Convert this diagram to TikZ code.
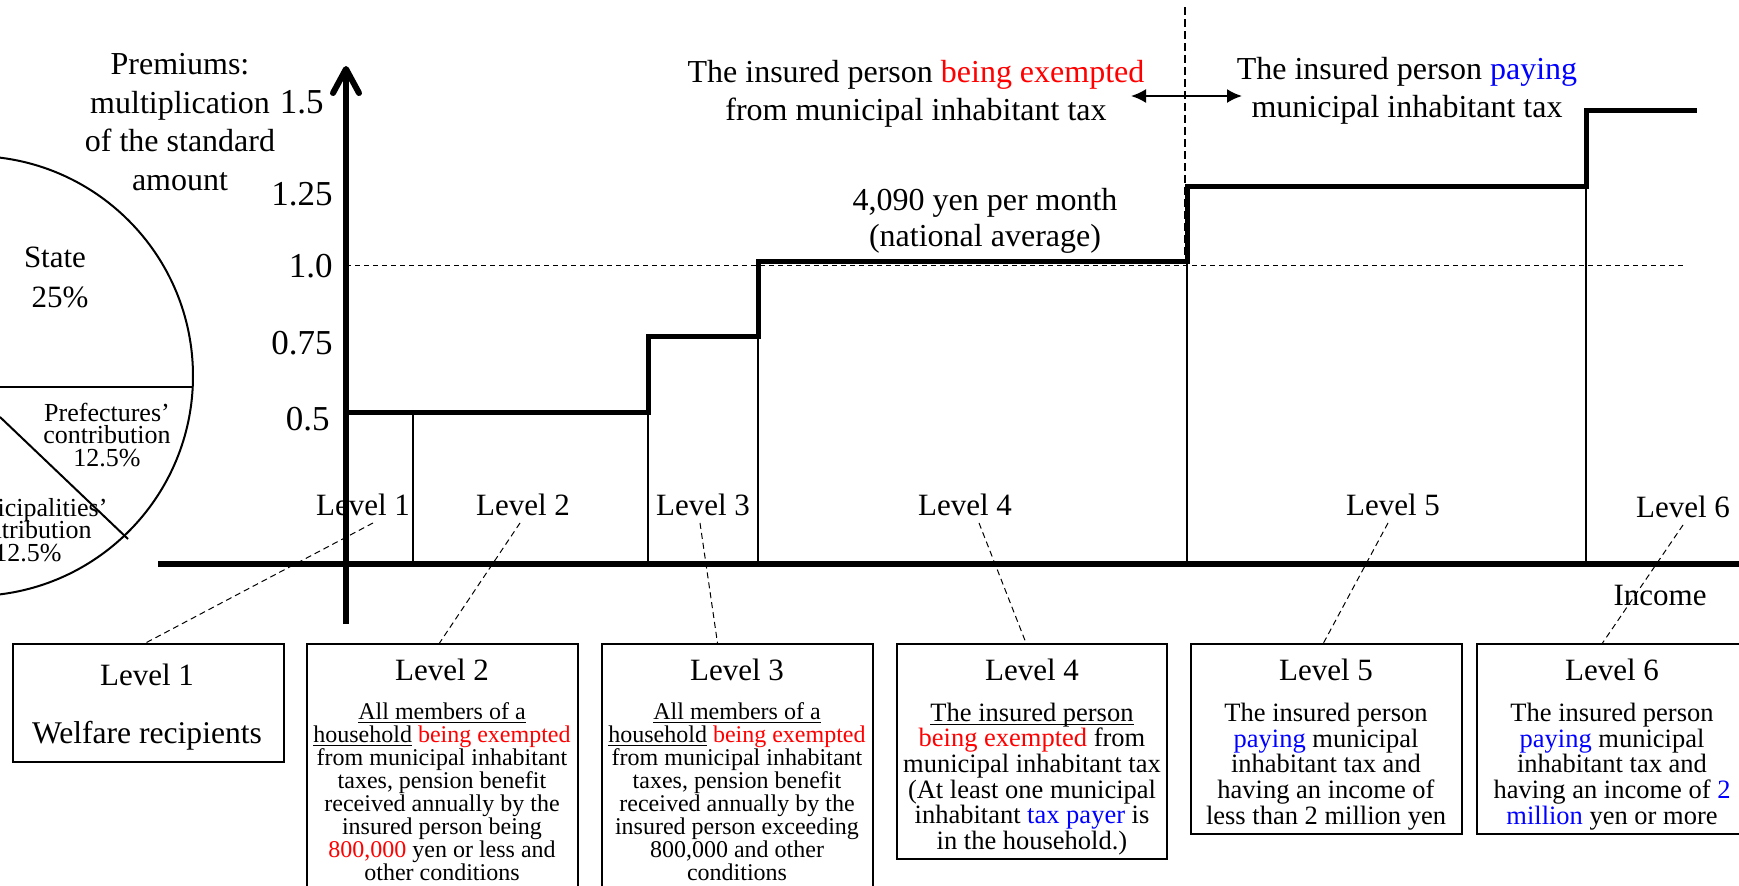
\documentclass[tikz,border=0pt]{standalone}
\usepackage{fontspec}
\setmainfont{Liberation Serif}
\usetikzlibrary{arrows.meta,calc}
\newcommand\tightlines{\lineskiplimit=-10pt\relax}
% underline just below the baseline, crossing descenders
\newcommand\baseul[1]{\underline{\smash{#1}}\vphantom{#1}}
\begin{document}
\begin{tikzpicture}[x=0.5pt,y=-0.5pt,
  axis/.style={line width=3pt,-{Straight Barb[length=12pt,width=13pt,round]}},
  stair/.style={line width=2.5pt,line join=miter},
  guide/.style={line width=0.75pt},
  dashref/.style={line width=0.5pt,dash pattern=on 2.5pt off 2pt},
  divider/.style={line width=0.75pt,dash pattern=on 4pt off 2pt},
  leader/.style={line width=0.5pt,dash pattern=on 3pt off 2pt},
  box/.style={draw,line width=1pt,inner sep=0pt,minimum width=135.5pt},
  lvl/.style={font=\fontsize{15.5}{18}\selectfont},
  tick/.style={font=\fontsize{17.5}{20}\selectfont,anchor=east,inner sep=0pt},
  captext/.style={font=\fontsize{16}{19}\selectfont,align=center,inner sep=0pt},
  body/.style={font=\fontsize{12}{11.5}\selectfont\tightlines,align=center,inner sep=0pt},
  bodyb/.style={font=\fontsize{13.25}{12.8}\selectfont\tightlines,align=center,inner sep=0pt},
  pietext/.style={font=\fontsize{13}{11.25}\selectfont\tightlines,align=center,inner sep=0pt},
]
\useasboundingbox (0,0) rectangle (1739,885);
\clip (0,0) rectangle (1739,885);

% funding pie (partly outside the frame)
\draw[line width=1pt] (-27,376) circle[radius=110pt];
\draw[line width=1pt] (0,387) -- (193,387);
\draw[line width=1pt] (0,417) -- (128,539);
\node[pietext,font=\fontsize{15.5}{20}\selectfont] (state) at (55,257) {State};
\node[pietext,font=\fontsize{15.5}{20}\selectfont] (statepct) at (60,297) {25\%};
\node[pietext] (pref) at (107,435) {Prefectures’\\contribution\\12.5\%};
\node[pietext] (muni) at (28,530) {Municipalities’\\contribution\\12.5\%};

% axis title and ticks
\node[captext,font=\fontsize{16}{19.3}\selectfont] (ytitle) at (180,122) {Premiums:\\multiplication\\of the standard\\amount};
\node[tick] (t150) at (324,102) {1.5};
\node[tick] (t125) at (333,194) {1.25};
\node[tick] (t100) at (333,266) {1.0};
\node[tick] (t075) at (333,343) {0.75};
\node[tick] (t050) at (330,419) {0.5};

% reference line at the standard amount
\draw[dashref] (346,265) -- (1683,265);

% level boundaries
\draw[guide] (413,412) -- (413,564);
\draw[guide] (648,412) -- (648,564);
\draw[guide] (758,336) -- (758,564);
\draw[guide] (1187,261) -- (1187,564);
\draw[guide] (1586,186) -- (1586,564);

% premium staircase
\draw[stair] (346,412) -- (648,412) -- (648,336) -- (758,336) -- (758,261)
  -- (1187,261) -- (1187,186) -- (1586,186) -- (1586,110) -- (1697,110);

% tax status divider
\draw[divider] (1185,7) -- (1185,258);
\draw[line width=1pt,{Latex[length=7.5pt,width=7pt]}-{Latex[length=7.5pt,width=7pt]}] (1131,96) -- (1242,96);
\node[captext] (exempt) at (916,94) {The insured person \textcolor{red}{being exempted}\\from municipal inhabitant tax};
\node[captext] (paying) at (1407,91) {The insured person \textcolor{blue}{paying}\\municipal inhabitant tax};
\node[captext,font=\fontsize{16}{18}\selectfont] (avg) at (985,221) {4,090 yen per month\\(national average)};

% level labels on the chart
\node[lvl] (lab1) at (363,505) {Level 1};
\node[lvl] (lab2) at (523,505) {Level 2};
\node[lvl] (lab3) at (703,505) {Level 3};
\node[lvl] (lab4) at (965,505) {Level 4};
\node[lvl] (lab5) at (1393,505) {Level 5};
\node[lvl] (lab6) at (1683,507) {Level 6};
\node[lvl] (income) at (1660,595) {Income};

% axes
\draw[axis] (346,624) -- (346,66);
\draw[axis] (158,564) -- (1772,564);

% description boxes
\node[box,minimum height=59pt] (box1) at (148.5,703) {};
\node[box,minimum height=128pt] (box2) at (442.5,772) {};
\node[box,minimum height=128pt] (box3) at (737.5,772) {};
\node[box,minimum width=135pt,minimum height=107.5pt] (box4) at (1032,751.5) {};
\node[box,minimum height=95pt] (box5) at (1326.5,739) {};
\node[box,minimum height=95pt] (box6) at (1612.5,739) {};

\node[lvl] (h1) at (147,675) {Level 1};
\node[lvl,font=\fontsize{15.8}{18}\selectfont] (w1) at (147,736) {Welfare recipients};
\node[lvl] (h2) at (442,670) {Level 2};
\node[lvl] (h3) at (737,670) {Level 3};
\node[lvl] (h4) at (1032,670) {Level 4};
\node[lvl] (h5) at (1326,670) {Level 5};
\node[lvl] (h6) at (1612,670) {Level 6};

\node[body] (d2) at (442,792) {\baseul{All members of a}\\
  \baseul{household} \textcolor{red}{being exempted}\\
  from municipal inhabitant\\
  taxes, pension benefit\\
  received annually by the\\
  insured person being\\
  \textcolor{red}{800,000} yen or less and\\
  other conditions};
\node[body] (d3) at (737,792) {\baseul{All members of a}\\
  \baseul{household} \textcolor{red}{being exempted}\\
  from municipal inhabitant\\
  taxes, pension benefit\\
  received annually by the\\
  insured person exceeding\\
  800,000 and other\\
  conditions};
\node[bodyb] (d4) at (1032,779) {\baseul{The insured person}\\
  \textcolor{red}{being exempted} from\\
  municipal inhabitant tax\\
  (At least one municipal\\
  inhabitant \textcolor{blue}{tax payer} is\\
  in the household.)};
\node[bodyb] (d5) at (1326,766.5) {The insured person\\
  \textcolor{blue}{paying} municipal\\
  inhabitant tax and\\
  having an income of\\
  less than 2 million yen};
\node[bodyb] (d6) at (1612,766.5) {The insured person\\
  \textcolor{blue}{paying} municipal\\
  inhabitant tax and\\
  having an income of \textcolor{blue}{2}\\
  \textcolor{blue}{million} yen or more};

% leaders from chart labels to boxes
\draw[leader] ($(lab1.south)+(10,0)$) -- ($(box1.north)+(-3,0)$);
\draw[leader] ($(lab2.south)+(-3,0)$) -- ($(box2.north)+(-3,0)$);
\draw[leader] ($(lab3.south)+(-3,0)$) -- ($(box3.north)+(-20,0)$);
\draw[leader] ($(lab4.south)+(14,0)$) -- ($(box4.north)+(-6,0)$);
\draw[leader] ($(lab5.south)+(-5,0)$) -- ($(box5.north)+(-3,0)$);
\draw[leader] (lab6.south) -- ($(box6.north)+(-10,0)$);
\end{tikzpicture}
\end{document}
